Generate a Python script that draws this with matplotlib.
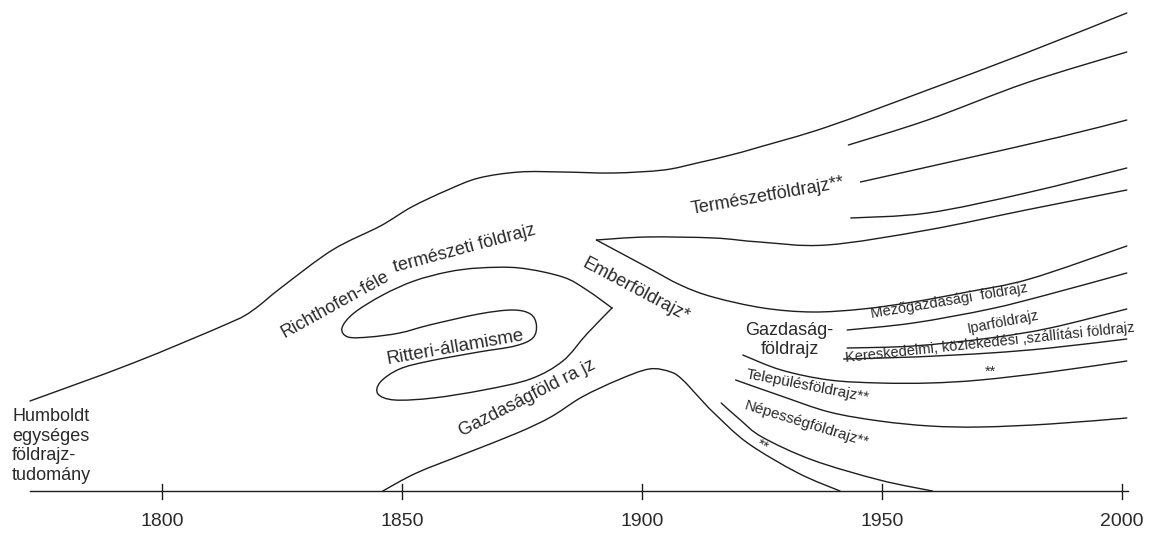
import matplotlib
matplotlib.use("Agg")
import matplotlib.pyplot as plt
from matplotlib.path import Path
from matplotlib.patches import PathPatch

plt.rcParams['font.family'] = ['Liberation Sans', 'DejaVu Sans']

# time axis
years = [1800, 1850, 1900, 1950, 2000]
axis_start, axis_end = 1772.5, 2001.25

# branches: x in years, y = height above the time axis
top_x = [1772.5, 1794, 1814, 1819, 1825, 1835.5, 1845.5, 1852, 1859.5, 1866, 1874.5,
         1883.5, 1894, 1904.5, 1911.5, 1918.5, 1924.5, 1938.5, 1959.5, 1980, 2001]
top_y = [90, 128, 168, 181, 204, 241, 265, 284, 301, 313, 319,
         319, 318, 321, 328, 336, 344, 364, 401, 438, 478]

phys1_x = [1943, 1959.5, 1980, 2001]
phys1_y = [346, 371, 408, 439]
phys2_x = [1945.5, 1966, 1987, 2001]
phys2_y = [309, 331, 354, 371]
phys3_x = [1943.5, 1959.5, 1980, 2001]
phys3_y = [273, 278, 298, 323]

wedge_top_x = [1890.5, 1901, 1915, 1924.5, 1938.5, 1959.5, 1980, 2001]
wedge_top_y = [251, 254, 253, 249, 246, 261, 281, 301]
wedge_low_x = [1890.5, 1901, 1908, 1914.75, 1925.25, 1935.5, 1946, 1956.5, 1967.75, 1980.75, 2001]
wedge_low_y = [251, 224, 206, 194, 183, 179, 182, 189, 199, 212, 245]

agri_x = [1942.75, 1956.5, 1972.5, 1985, 2001]
agri_y = [161, 168, 182, 197, 218]
ind_x = [1942.75, 1956.5, 1972.5, 1985, 2001]
ind_y = [143, 145, 153, 163, 182]
trade_x = [1942, 1956.5, 1972.5, 1985, 2001]
trade_y = [132, 134, 138, 143, 152]

econ_x = [1921, 1929, 1939, 1949.5, 1960, 1970.5, 1985, 2001]
econ_y = [136, 121, 111, 108, 108, 111, 119, 130]
settle_x = [1919.5, 1929, 1939, 1949.5, 1960, 1970.5, 1985, 2001]
settle_y = [111, 95, 79, 70, 65, 64, 67, 73]
pop_x = [1916.5, 1920.5, 1925, 1935.5, 1949.5, 1960.5]
pop_y = [88, 71, 54, 31, 11, 0]

hump_x = [1846, 1853, 1863.5, 1874, 1881, 1887.5, 1895, 1901.5, 1906, 1908.5,
          1912, 1915, 1922, 1932.5, 1941.25]
hump_y = [0, 18, 38, 58, 74, 94, 111, 122, 119, 111,
          93, 78, 48, 18, 0]

loop_x = [1893.75, 1888.5, 1883.5, 1874.5, 1866, 1859.5, 1852.5, 1846, 1840, 1837.5,
          1838.75, 1843.25, 1849.5, 1855.75, 1866, 1873, 1876.75, 1878, 1877.25, 1873.5,
          1866, 1855.75, 1849.5, 1845.5, 1845, 1848.5, 1856.5, 1867, 1876.75, 1883.5,
          1888.5, 1893.75]
loop_y = [183, 201, 214, 223, 223, 219, 210, 196, 178, 163,
          154, 154, 158, 166, 177, 181, 177, 166, 153, 145,
          139, 130, 122, 109, 97, 91, 93, 101, 112, 130,
          157, 183]

# labels: text, x, y, rotation, size
labels = [
    ("Richthofen-féle", 1836, 186, 29, 13),
    ("természeti földrajz", 1863, 242, 15, 13),
    ("Ritteri-államisme", 1861, 144, 10, 13.5),
    ("Emberföldrajz*", 1898.75, 201, -28, 13),
    ("Gazdaságföld ra jz", 1876, 93, 27, 13),
    ("Természetföldrajz**", 1926.25, 295, 10, 13),
    ("Gazdaság-\nföldrajz", 1930.75, 151, 0, 13),
    ("Mezőgazdasági  földrajz", 1964, 190, 9.5, 10.5),
    ("Iparföldrajz", 1975.25, 169, 11, 10.5),
    ("Kereskedelmi, közlekedési ,szállítási földrajz", 1972.5, 148, 6, 10.5),
    ("**", 1972.5, 119, 0, 10.5),
    ("Településföldrajz**", 1934.5, 105, -11, 11),
    ("Népességföldrajz**", 1934.25, 67, -17, 11),
    ("**", 1925, 45, -30, 11),
]

line_col = "#1e1e1e"
text_col = "#2a2a2a"
lw = 1.0


def smooth(xs, ys):
    # cubic bezier path through the read points (catmull-rom tangents)
    pts = list(zip(xs, ys))
    ext = [pts[0]] + pts + [pts[-1]]
    verts = [pts[0]]
    codes = [Path.MOVETO]
    for i in range(1, len(ext) - 2):
        p0, p1, p2, p3 = ext[i - 1], ext[i], ext[i + 1], ext[i + 2]
        c1 = (p1[0] + (p2[0] - p0[0]) / 6, p1[1] + (p2[1] - p0[1]) / 6)
        c2 = (p2[0] - (p3[0] - p1[0]) / 6, p2[1] - (p3[1] - p1[1]) / 6)
        verts += [c1, c2, p2]
        codes += [Path.CURVE4] * 3
    return Path(verts, codes)


fig = plt.figure(figsize=(11.49, 5.33), dpi=100)
ax = fig.add_axes([0, 0, 1, 1])
ax.set_xlim(1766.25, 1766.25 + 1149 / 4.8)
ax.set_ylim(-42, 491)
ax.axis('off')

curves = [(top_x, top_y), (phys1_x, phys1_y), (phys2_x, phys2_y), (phys3_x, phys3_y),
          (wedge_top_x, wedge_top_y), (wedge_low_x, wedge_low_y),
          (agri_x, agri_y), (ind_x, ind_y), (trade_x, trade_y),
          (econ_x, econ_y), (settle_x, settle_y), (pop_x, pop_y),
          (hump_x, hump_y), (loop_x, loop_y)]
for cx, cy in curves:
    ax.add_patch(PathPatch(smooth(cx, cy), facecolor='none', edgecolor=line_col,
                           lw=lw, joinstyle='round', capstyle='round'))

# time axis with ticks
ax.plot([axis_start, axis_end], [0, 0], color=line_col, lw=lw)
for yr in years:
    ax.plot([yr, yr], [-8, 7], color=line_col, lw=lw)
    ax.text(yr, -31, str(yr), ha='center', va='center', fontsize=14, color=text_col)

ax.text(1768.75, 45, "Humboldt\negységes\nföldrajz-\ntudomány", ha='left', va='center',
        fontsize=13, color=text_col, linespacing=1.2)

for txt, x, y, rot, size in labels:
    ax.text(x, y, txt, rotation=rot, ha='center', va='center', fontsize=size,
            color=text_col, rotation_mode='anchor', linespacing=1.15)

fig.savefig("out.png", dpi=100)
